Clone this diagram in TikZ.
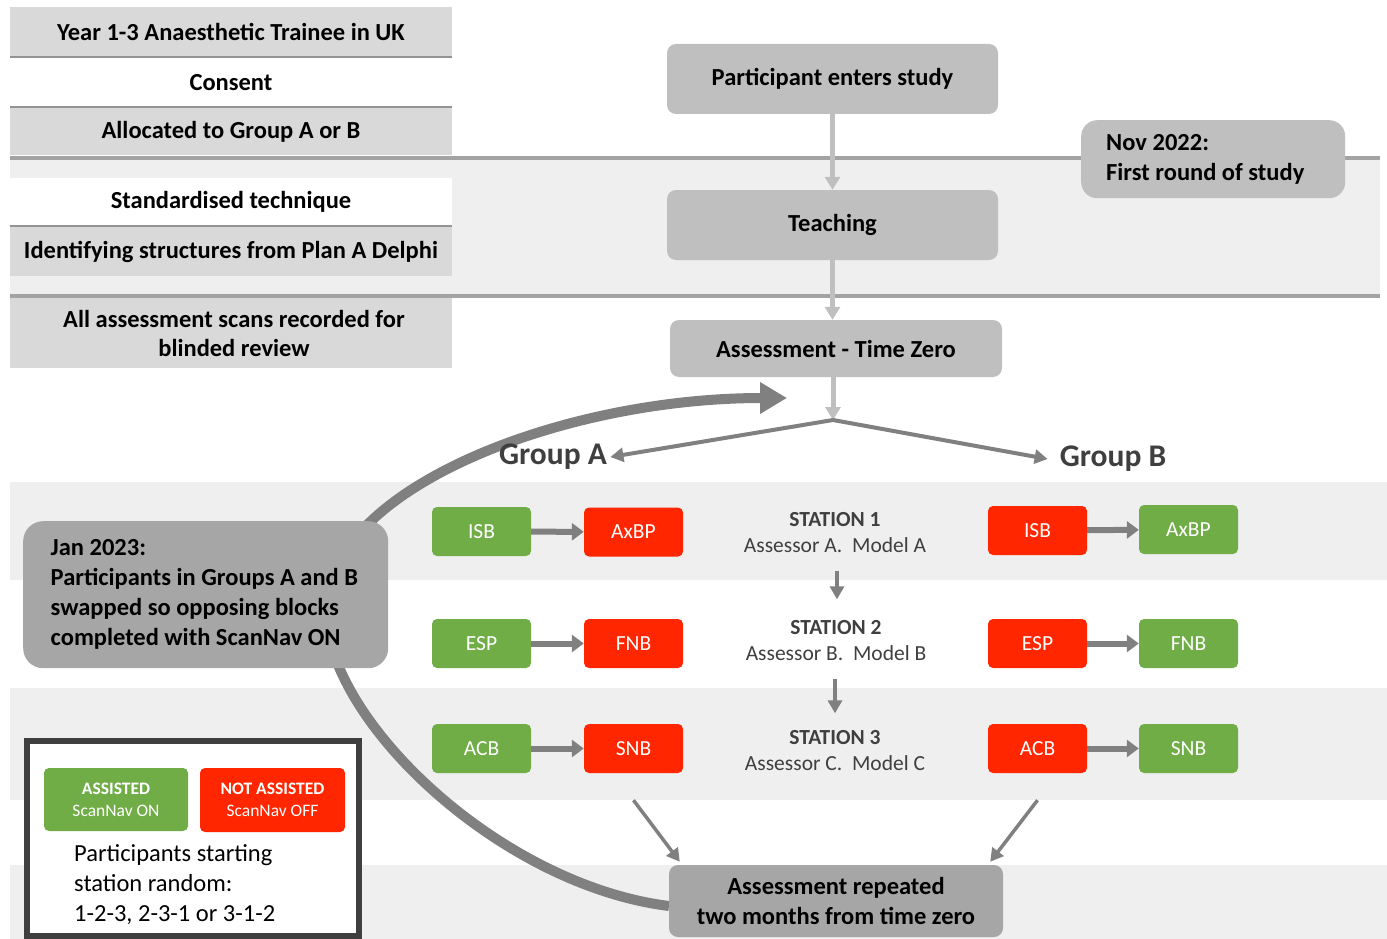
\documentclass[tikz,border=0pt]{standalone}
\usepackage{fontspec}
\setmainfont{Carlito}
\usetikzlibrary{positioning, arrows.meta, calc}

\definecolor{boxgray}{HTML}{BFBFBF}
\definecolor{darkbox}{HTML}{A6A6A6}
\definecolor{rowgray}{HTML}{D9D9D9}
\definecolor{bandgray}{HTML}{EFEFEF}
\definecolor{rulegray}{HTML}{A3A3A3}
\definecolor{arrowgray}{HTML}{808080}
\definecolor{scangreen}{HTML}{70AD47}
\definecolor{scanred}{HTML}{FF2600}
\definecolor{inkgray}{HTML}{3F3F3F}

\newcommand\fsz[2]{\fontsize{#1}{#2}\selectfont}

\begin{document}
\begin{tikzpicture}[x=1pt, y=-1pt,
    leftrow/.style={minimum width=442pt, inner sep=0pt, align=center, font=\bfseries\fsz{24.5}{29}},
    flow/.style={rounded corners=9pt, fill=boxgray, minimum width=331pt, minimum height=70pt, align=center, font=\bfseries\fsz{24.5}{30}},
    note/.style={rounded corners=16pt, anchor=north west, align=flush left, inner ysep=0pt, font=\bfseries\fsz{24.5}{30}},
    blk/.style={rounded corners=5pt, minimum width=99pt, minimum height=49pt, text=white, font=\fsz{21.5}{22}},
    on/.style={blk, fill=scangreen},
    off/.style={blk, fill=scanred},
    stn/.style={align=center, text=inkgray, font=\fsz{21.5}{26}},
    sepline/.style={draw=arrowgray!85, line width=2pt},
    rule/.style={draw=rulegray, line width=4pt},
    lightlink/.style={draw=boxgray, line width=5pt, -{Triangle[length=13pt,width=15pt]}},
    link/.style={draw=arrowgray, line width=4pt, -{Triangle[length=13pt,width=14pt]}},
    blklink/.style={draw=arrowgray, line width=6pt, -{Triangle[length=12pt,width=17pt]}}]
    \useasboundingbox (0,0) rectangle (1387,939);

    % bands
    \fill[bandgray] (10,158) rectangle (1380,296);
    \fill[bandgray] (10,482) rectangle (1387,580);
    \fill[bandgray] (10,688) rectangle (1387,800);
    \fill[bandgray] (10,865) rectangle (1387,939);

    % left column
    \node[leftrow, fill=rowgray, minimum height=50pt] (year) at (231,32) {Year 1-3 Anaesthetic Trainee in UK};
    \node[leftrow, fill=white, minimum height=49pt] (consent) at (231,82.5) {Consent};
    \node[leftrow, fill=rowgray, minimum height=47pt] (alloc) at (231,131.5) {Allocated to Group A or B};
    \node[leftrow, fill=white, minimum height=48pt] (stand) at (231,202) {Standardised technique};
    \node[leftrow, fill=rowgray, minimum height=49pt] (ident) at (231,251.5) {Identifying structures from Plan A Delphi};
    \node[leftrow, fill=rowgray, minimum height=70pt] (scans) at (231,333) {\hspace*{6pt}All assessment scans recorded for\\\hspace*{6pt}blinded review};
    \draw[sepline] (year.south west) -- (year.south east);
    \draw[sepline] (consent.south west) -- (consent.south east);
    \draw[sepline] (stand.south west) -- (stand.south east);
    \draw[rule] (10,158) -- (1380,158);
    \draw[rule] (10,296) -- (1380,296);

    % big loop behind the boxes
    \draw[draw=arrowgray, line width=10pt, -{Triangle[length=27pt,width=30pt]}]
        (669,906) .. controls (500,885) and (326,720) .. (326,610)
        .. controls (326,490) and (560,398) .. (787,398);

    % main flow
    \node[flow] (enter) at (832.5,79) {Participant enters study};
    \node[flow] (teach) at (832.5,225) {Teaching};
    \node[flow, minimum width=332pt, minimum height=57pt] (tzero) at (836,348.5) {Assessment - Time Zero};
    \coordinate (split) at (833,420);
    \node[font=\bfseries\fsz{31.5}{32}, text=inkgray] (grpA) at (553,457) {Group A};
    \node[font=\bfseries\fsz{31.5}{32}, text=inkgray, inner xsep=12pt] (grpB) at (1113,459) {Group B};
    \node[note, fill=boxgray, text width=214pt, inner xsep=25pt, minimum height=78pt] (nov) at (1081,120) {Nov 2022:\\First round of study};

    \draw[lightlink] (enter) -- (teach);
    \draw[lightlink] (teach) -- (teach.south |- tzero.north);
    \draw[lightlink] (tzero.south -| split) -- (split);
    \draw[link] (split) -- (grpA.east);
    \draw[link] (split) -- (grpB.west);

    % stations
    \node[on] (isbA) at (481.5,531.5) {ISB};
    \node[off] (axbpA) at (633.5,532) {AxBP};
    \node[off] (isbB) at (1037.5,530.5) {ISB};
    \node[on] (axbpB) at (1188.5,529.5) {AxBP};
    \node[stn] (st1) at (835,533) {\textbf{STATION 1}\\Assessor A.\ \ Model A};

    \node[on] (espA) at (481.5,643.5) {ESP};
    \node[off] (fnbA) at (633.5,643.5) {FNB};
    \node[off] (espB) at (1037.5,643.5) {ESP};
    \node[on] (fnbB) at (1188.5,643.5) {FNB};
    \node[stn] (st2) at (836,641) {\textbf{STATION 2}\\Assessor B.\ \ Model B};

    \node[on] (acbA) at (481.5,748.5) {ACB};
    \node[off] (snbA) at (633.5,748.5) {SNB};
    \node[off] (acbB) at (1037.5,748.5) {ACB};
    \node[on] (snbB) at (1188.5,748.5) {SNB};
    \node[stn] (st3) at (835,751) {\textbf{STATION 3}\\Assessor C.\ \ Model C};

    \draw[blklink] (isbA) -- (axbpA);
    \draw[blklink] (isbB) -- (axbpB);
    \draw[blklink] (espA) -- (fnbA);
    \draw[blklink] (espB) -- (fnbB);
    \draw[blklink] (acbA) -- (snbA);
    \draw[blklink] (acbB) -- (snbB);
    \draw[link, line width=3.5pt, shorten <=14pt, shorten >=18pt] (st1.south -| 837,0) -- (st2.north -| 837,0);
    \draw[link, line width=3.5pt, shorten <=14pt, shorten >=14pt] (st2.south -| 835,0) -- (st3.north -| 835,0);

    % second assessment
    \node[flow, fill=darkbox, minimum width=334pt, minimum height=72pt] (repeat) at (836,901) {Assessment repeated\\two months from time zero};
    \draw[link, line width=3.5pt] ($(snbA.south)+(0,27)$) -- ($(repeat.north west)+(11,-3)$);
    \draw[link, line width=3.5pt] ($(acbB.south)+(0,27)$) -- ($(repeat.north east)+(-13,-3)$);

    % swap note
    \node[note, fill=darkbox, text width=310pt, inner xsep=27.5pt, minimum height=147pt, rounded corners=20pt] (jan) at (23,521)
        {Jan 2023:\\Participants in Groups A and B\\swapped so opposing blocks\\completed with ScanNav ON};

    % legend
    \draw[draw=inkgray, line width=6pt, fill=white] (27,741) rectangle (359,936);
    \node[blk, fill=scangreen, minimum width=144pt, minimum height=63pt, align=center, font=\fsz{17.5}{22}] (keyon) at (116,799.5) {\textbf{ASSISTED}\\ScanNav ON};
    \node[blk, fill=scanred, minimum width=145pt, minimum height=64pt, align=center, font=\fsz{17.5}{22}] (keyoff) at (272.5,800) {\textbf{NOT ASSISTED}\\ScanNav OFF};
    \node[anchor=west, align=left, inner sep=0pt, font=\fsz{24.5}{30}] (keytext) at (74,885) {Participants starting\\station random:\\1-2-3, 2-3-1 or 3-1-2};
\end{tikzpicture}
\end{document}
